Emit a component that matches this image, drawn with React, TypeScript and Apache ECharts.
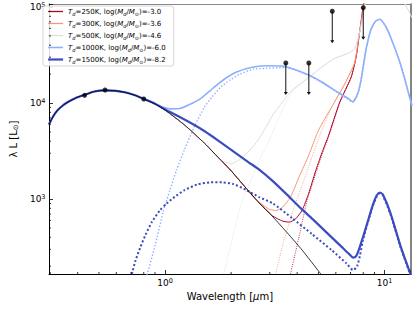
import React, { useEffect, useRef } from 'react';
import * as echarts from 'echarts';

type Pt = [number, number];

const X_MIN = 0.296;
const X_MAX = 13.16;
const Y_MIN = 166;
const Y_MAX = 107400;

const TEMPS = [250, 300, 500, 1000, 1500];
const LOG_MASS = ['-3.0', '-3.6', '-4.6', '-6.0', '-8.2'];
const COLORS = ['#b40426', '#f4987a', '#dddddd', '#8db0fe', '#3b4cc0'];

// stellar photosphere
const STAR: Pt[] = [
  [0.296, 6000], [0.31, 7320], [0.323, 8350], [0.34, 9310], [0.358, 10120], [0.396, 11410],
  [0.429, 12170], [0.477, 13180], [0.529, 13560], [0.598, 13400], [0.663, 12860], [0.735, 11970],
  [0.798, 11060], [0.902, 9763], [1.0, 8455], [1.228, 5900], [1.509, 3831], [1.672, 3014],
  [1.986, 2005], [2.276, 1399], [2.656, 937], [3.098, 654], [3.614, 442], [4.217, 294],
  [5.075, 171], [5.45, 140],
];

const T250_TAIL: Pt[] = [
  [2.943, 741], [3.098, 665], [3.434, 590], [3.678, 576], [3.924, 619], [4.217, 768], [4.519, 1155],
  [4.835, 1911], [5.18, 3014], [5.549, 4532], [6.252, 10240], [7.052, 18660], [7.424, 30150],
  [7.681, 52330], [7.953, 93060], [8.101, 118300], [8.483, 191000], [9.6, 634000], [11.79, 499000],
  [13.34, 392000],
];
const T250_DUST: Pt[] = [
  [3.69, 150], [4.047, 374], [4.44, 976], [4.673, 1399], [4.92, 2005], [5.18, 2873], [5.549, 4372],
  [6.252, 10000], [7.052, 18600], [7.424, 30100], [7.681, 52300], [7.953, 93000], [8.101, 118000],
  [8.483, 191000], [9.6, 634000], [11.79, 499000], [13.34, 392000],
];

const T300_TAIL: Pt[] = [
  [2.522, 1049], [2.796, 866], [2.973, 787], [3.196, 759], [3.434, 825], [3.728, 1049], [4.077, 1695],
  [4.519, 2873], [5.007, 5234], [5.741, 9085], [6.581, 15780], [7.295, 26100], [7.681, 53600],
  [7.977, 88700], [8.141, 118300], [8.483, 191000], [9.6, 499000], [11.79, 392000], [13.34, 309000],
];
const T300_DUST: Pt[] = [
  [3.16, 150], [3.434, 332], [3.804, 732], [4.217, 1399], [4.673, 2738], [5.075, 4642], [5.741, 8978],
  [6.581, 15700], [7.295, 26000], [7.681, 53500], [7.977, 88600], [8.141, 118000], [8.483, 191000],
  [9.6, 499000], [11.79, 392000], [13.34, 309000],
];

const T500_TAIL: Pt[] = [
  [1.616, 3239], [1.724, 2738], [1.853, 2458], [2.012, 2343], [2.207, 2610], [2.438, 3239],
  [2.656, 4118], [2.892, 5664], [3.098, 7499], [3.319, 9307], [3.804, 13660], [4.673, 19570],
  [5.18, 23710], [5.939, 29220], [6.815, 32940], [7.295, 36520], [7.681, 53210], [7.977, 79250],
  [8.229, 118000], [8.66, 191000], [9.6, 309000], [11.2, 243000], [12.41, 107400], [13.06, 85980],
  [13.34, 76820],
];
const T500_DUST: Pt[] = [
  [1.83, 150], [1.971, 294], [2.118, 604], [2.3, 1101], [2.522, 1778], [2.738, 2738], [2.995, 4118],
  [3.261, 6652], [3.541, 9763], [3.804, 13180], [4.673, 19400], [5.18, 23600], [5.939, 29100],
  [6.815, 32800], [7.295, 36400], [7.681, 53000], [7.977, 79000], [8.229, 118000], [8.66, 191000],
  [9.6, 309000], [11.2, 243000], [12.41, 107000], [13.06, 85800], [13.34, 76700],
];

const T1000_TAIL: Pt[] = [
  [0.857, 10490], [0.95, 9307], [1.053, 8700], [1.167, 8763], [1.293, 9647], [1.458, 11190],
  [1.616, 13660], [1.853, 17570], [2.118, 21030], [2.522, 23710], [2.995, 24460], [3.551, 23880],
  [4.519, 19570], [5.18, 16550], [6.106, 13020], [6.767, 11270], [7.177, 10310], [7.555, 12620],
  [7.816, 17360], [8.229, 35650], [8.66, 57600], [9.117, 71490], [9.528, 74470], [10.1, 63410],
  [10.64, 49050], [11.79, 25910], [13.06, 11190], [13.34, 9307],
];
const T1000_DUST: Pt[] = [
  [0.82, 150], [0.902, 332], [0.98, 732], [1.053, 1241], [1.128, 2005], [1.228, 3300], [1.361, 5700],
  [1.509, 9000], [1.638, 11600], [1.791, 14600], [1.971, 17300], [2.2, 20000], [2.522, 22500],
  [2.892, 22990], [3.551, 23430], [4.519, 19340], [5.18, 16350], [6.106, 12850], [6.767, 11100],
  [7.177, 10150], [7.555, 12450], [7.816, 17200], [8.229, 35500], [8.66, 57400], [9.117, 71300],
  [9.528, 74300], [10.1, 63300], [10.64, 48950], [11.79, 25850], [13.06, 11170], [13.34, 9300],
];

const T1500_TAIL: Pt[] = [
  [0.902, 9800], [1.0, 8560], [1.167, 7150], [1.361, 5900], [1.509, 5110], [1.76, 4020], [2.054, 3125],
  [2.396, 2430], [2.703, 2005], [3.098, 1540], [3.614, 1100], [4.217, 777], [4.756, 604], [5.453, 448],
  [6.362, 320], [6.909, 267], [7.197, 246], [7.424, 255], [7.655, 301], [7.977, 402], [8.373, 576],
  [8.84, 866], [9.211, 1088], [9.499, 1169], [9.797, 1127], [10.64, 715], [11.79, 332], [12.41, 237],
  [13.06, 171], [13.34, 150],
];
const T1500_DUST: Pt[] = [
  [0.698, 150], [0.71, 175], [0.735, 232], [0.773, 318], [0.814, 422], [0.872, 580], [0.95, 768],
  [1.018, 902], [1.108, 1057], [1.228, 1241], [1.408, 1423], [1.616, 1493], [1.821, 1493],
  [2.054, 1433], [2.347, 1241], [2.683, 1049], [3.098, 902], [3.804, 630], [4.673, 432], [5.741, 294],
  [6.697, 215], [7.197, 182], [7.499, 200], [7.735, 261], [7.977, 374], [8.373, 562], [8.84, 846],
  [9.211, 1062], [9.499, 1147], [9.797, 1101], [10.64, 698], [11.79, 324], [12.41, 232], [13.06, 168],
  [13.34, 147],
];

const MODEL_TOTAL: Pt[][] = [
  [...STAR.slice(0, 21), ...T250_TAIL],
  [...STAR.slice(0, 20), ...T300_TAIL],
  [...STAR.slice(0, 17), ...T500_TAIL],
  [...STAR.slice(0, 13), ...T1000_TAIL],
  [...STAR.slice(0, 13), ...T1500_TAIL],
];
const MODEL_DUST: Pt[][] = [T250_DUST, T300_DUST, T500_DUST, T1000_DUST, T1500_DUST];

// photometry
const PHOT_LAMBDA = [0.43, 0.533, 0.8];
const PHOT_L = [12030, 13660, 11010];
// upper limits
const UL_LAMBDA = [3.55, 4.52, 5.78, 8.0];
const UL_L = [26100, 26100, 90200, 98300];

const X_MINOR = [0.3, 0.4, 0.5, 0.6, 0.7, 0.8, 0.9, 2, 3, 4, 5, 6, 7, 8, 9];
const Y_MINOR = [200, 300, 400, 500, 600, 700, 800, 900, 2000, 3000, 4000, 5000, 6000, 7000, 8000, 9000,
  20000, 30000, 40000, 50000, 60000, 70000, 80000, 90000];

const ARROW_FACTOR = Math.pow(10, -0.333);

const LINE_W = [1, 1, 1, 1.6, 2.2];
const DOT_W = [0.9, 0.9, 0.9, 1.4, 2];
const DOT_DASH = [[0.9, 1.4], [0.9, 1.4], [0.9, 1.4], [1.4, 1.9], [2, 2.2]];
const LEGEND_W = [1.3, 1.3, 1.3, 1.6, 2.2];

const FONT = 'DejaVu Sans';

function decadeLabel(v: number): string {
  const e = Math.log10(v);
  const r = Math.round(e);
  if (Math.abs(e - r) > 1e-6) return '';
  return `{b|10}{s|${r}}`;
}

const tickRich = {
  b: { fontSize: 9, fontFamily: FONT, color: '#000', lineHeight: 11 },
  s: { fontSize: 6.5, fontFamily: FONT, color: '#000', verticalAlign: 'top', lineHeight: 7 },
};

export default function App() {
  const ref = useRef<HTMLDivElement>(null);
  useEffect(() => {
    if (!ref.current) return;
    const chart = echarts.init(ref.current, undefined, { renderer: 'svg' });
    const names = TEMPS.map((t) => `m${t}`);
    const series: any[] = [];
    TEMPS.forEach((t, i) => {
      series.push({
        name: names[i],
        type: 'line',
        data: MODEL_TOTAL[i],
        symbol: 'none',
        smooth: 0.2,
        clip: true,
        lineStyle: { color: COLORS[i], width: LINE_W[i] },
        itemStyle: { color: COLORS[i] },
        z: 2 + i,
      });
      series.push({
        name: `d${t}`,
        type: 'line',
        data: MODEL_DUST[i],
        symbol: 'none',
        smooth: 0.2,
        clip: true,
        lineStyle: { color: COLORS[i], width: DOT_W[i], type: DOT_DASH[i], cap: 'butt' },
        itemStyle: { color: COLORS[i] },
        z: 2 + i,
      });
    });
    series.push({
      name: 'star',
      type: 'line',
      data: STAR,
      symbol: 'none',
      smooth: 0.2,
      clip: true,
      lineStyle: { color: '#000', width: 0.8 },
      z: 10,
    });
    series.push({
      name: 'ularrows',
      type: 'custom',
      z: 11,
      clip: false,
      data: UL_LAMBDA.map((l, i) => [l, UL_L[i]]),
      renderItem: (_p: any, api: any) => {
        const top = api.coord([api.value(0), api.value(1)]);
        const bot = api.coord([api.value(0), api.value(1) * ARROW_FACTOR]);
        return {
          type: 'group',
          children: [
            { type: 'line', shape: { x1: top[0], y1: top[1], x2: bot[0], y2: bot[1] - 2 }, style: { stroke: '#111', lineWidth: 1 } },
            { type: 'polygon', shape: { points: [[bot[0] - 2, bot[1] - 3], [bot[0] + 2, bot[1] - 3], [bot[0], bot[1]]] }, style: { fill: '#111' } },
          ],
        };
      },
    });
    series.push({
      name: 'dots',
      type: 'scatter',
      z: 12,
      symbolSize: 5,
      itemStyle: { color: '#000' },
      data: [...PHOT_LAMBDA.map((l, i) => [l, PHOT_L[i]]), ...UL_LAMBDA.map((l, i) => [l, UL_L[i]])],
    });
    series.push({
      name: 'xminor',
      type: 'custom',
      z: 13,
      clip: false,
      silent: true,
      data: X_MINOR.map((v) => [v, Y_MIN]),
      renderItem: (_p: any, api: any) => {
        const p = api.coord([api.value(0), api.value(1)]);
        return { type: 'line', shape: { x1: p[0], y1: p[1], x2: p[0], y2: p[1] - 2 }, style: { stroke: '#000', lineWidth: 0.8 } };
      },
    });
    series.push({
      name: 'yminor',
      type: 'custom',
      z: 13,
      clip: false,
      silent: true,
      data: Y_MINOR.map((v) => [X_MIN, v]),
      renderItem: (_p: any, api: any) => {
        const p = api.coord([api.value(0), api.value(1)]);
        return { type: 'line', shape: { x1: p[0], y1: p[1], x2: p[0] + 2, y2: p[1] }, style: { stroke: '#000', lineWidth: 0.8 } };
      },
    });

    const legendRich = {
      n: { fontSize: 7, fontFamily: FONT, color: '#000', lineHeight: 9 },
      i: { fontSize: 7, fontFamily: FONT, fontStyle: 'italic', color: '#000', lineHeight: 9 },
      s: { fontSize: 5, fontFamily: FONT, fontStyle: 'italic', color: '#000', verticalAlign: 'bottom', lineHeight: 5 },
      so: { fontSize: 5, fontFamily: FONT, color: '#000', verticalAlign: 'bottom', lineHeight: 5 },
    };

    chart.setOption({
      animation: false,
      textStyle: { fontFamily: FONT },
      grid: { left: 41.7, right: 4.3, top: 4, bottom: 38, containLabel: false },
      legend: {
        data: names.map((n, i) => ({
          name: n,
          lineStyle: { width: LEGEND_W[i], color: COLORS[i] },
          itemStyle: { opacity: 0 },
        })),
        orient: 'vertical',
        left: 43,
        top: 6,
        itemWidth: 15,
        itemHeight: 8,
        itemGap: 4,
        padding: [2, 8, 2, 4],
        backgroundColor: 'rgba(255,255,255,0.85)',
        borderColor: '#cccccc',
        borderWidth: 0.8,
        borderRadius: 2,
        selectedMode: false,
        formatter: (name: string) => {
          const i = names.indexOf(name);
          return `{i|T}{s|d}{n|=${TEMPS[i]}K, log(}{i|M}{s|d}{n|/}{i|M}{so|⊙}{n|)=${LOG_MASS[i]}}`;
        },
        textStyle: { fontSize: 7, color: '#000', rich: legendRich },
      },
      xAxis: [
        {
          type: 'log',
          logBase: 10,
          min: X_MIN,
          max: X_MAX,
          position: 'bottom',
          name: '{n|Wavelength [}{i|μ}{n|m]}',
          nameLocation: 'middle',
          nameGap: 15,
          nameTextStyle: {
            rich: {
              n: { fontSize: 10, fontFamily: FONT, color: '#000' },
              i: { fontSize: 10, fontFamily: FONT, fontStyle: 'italic', color: '#000' },
            },
          },
          axisLine: { show: true, onZero: false, lineStyle: { color: '#000', width: 1 } },
          axisTick: { show: true, inside: true, length: 4, lineStyle: { color: '#000', width: 0.8 } },
          axisLabel: { margin: 3, formatter: decadeLabel, rich: tickRich },
          splitLine: { show: false },
          minorTick: { show: false },
        },
        {
          type: 'log',
          logBase: 10,
          min: X_MIN,
          max: X_MAX,
          position: 'top',
          axisLine: { show: true, onZero: false, lineStyle: { color: '#888', width: 1 } },
          axisTick: { show: false },
          axisLabel: { show: false },
          splitLine: { show: false },
        },
      ],
      yAxis: [
        {
          type: 'log',
          logBase: 10,
          min: Y_MIN,
          max: Y_MAX,
          position: 'left',
          name: '{n|λ L [L}{so|⊙}{n|]}',
          nameLocation: 'middle',
          nameGap: 22,
          nameRotate: 90,
          nameTextStyle: {
            rich: {
              n: { fontSize: 10, fontFamily: FONT, color: '#000', lineHeight: 12 },
              so: { fontSize: 7, fontFamily: FONT, color: '#000', verticalAlign: 'bottom', lineHeight: 7 },
            },
          },
          axisLine: { show: true, onZero: false, lineStyle: { color: '#000', width: 1 } },
          axisTick: { show: true, inside: true, length: 4, lineStyle: { color: '#000', width: 0.8 } },
          axisLabel: { margin: 3.5, formatter: decadeLabel, rich: tickRich },
          splitLine: { show: false },
          minorTick: { show: false },
        },
        {
          type: 'log',
          logBase: 10,
          min: Y_MIN,
          max: Y_MAX,
          position: 'right',
          axisLine: { show: true, onZero: false, lineStyle: { color: '#666', width: 1.6 } },
          axisTick: { show: false },
          axisLabel: { show: false },
          splitLine: { show: false },
        },
      ],
      series,
    });
    return () => chart.dispose();
  }, []);
  return <div ref={ref} style={{ position: 'absolute', left: 0, top: 0, width: 415, height: 312 }} />;
}
